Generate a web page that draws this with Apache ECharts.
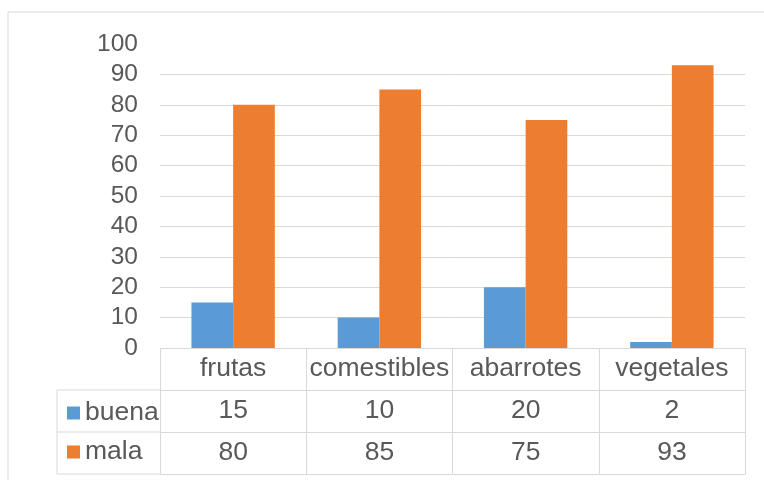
<!DOCTYPE html>
<html>
<head>
<meta charset="utf-8">
<script src="https://cdn.jsdelivr.net/npm/echarts@6/dist/echarts.min.js"></script>
<style>
  html, body { margin: 0; padding: 0; background: #fff; }
  #chart { width: 764px; height: 480px; }
</style>
</head>
<body>
<div id="chart"></div>
<script>
// datos de la tabla
const categories = ['frutas', 'comestibles', 'abarrotes', 'vegetales']
const buena = [15, 10, 20, 2]
const mala = [80, 85, 75, 93]
const seriesNames = ['buena', 'mala']
const colors = ['#5B9BD5', '#ED7D31']

const textColor = '#595959'
const lineColor = '#D9D9D9'
const font = 'Liberation Sans, Arial, sans-serif'
const tableFont = 26.5

// layout
const gridLeft = 160
const gridRight = 19
const gridTop = 44
const gridBottom = 132
const rowH = 42
const legendLeft = 57

const chart = echarts.init(document.getElementById('chart'))

// las celdas de la tabla se dibujan con ejes extra
const tableAxis = (data, offset, showLabel) => ({
  type: 'category',
  data: data,
  position: 'bottom',
  offset: offset,
  axisLine: {show: true, lineStyle: {color: lineColor, width: 1}},
  axisTick: {show: false},
  axisLabel: {show: showLabel, interval: 0, margin: 7, color: textColor, fontSize: tableFont, fontFamily: font},
  splitLine: {show: false}
})

// la linea de 100 no se muestra
const splitColors = Array(11).fill(lineColor)
splitColors[10] = 'transparent'

const tableTop = 480 - gridBottom
const tableBottom = tableTop + rowH * 3
const gLine = (x1, y1, x2, y2) => ({
  type: 'line',
  shape: {x1: x1, y1: y1, x2: x2, y2: y2},
  style: {stroke: lineColor, lineWidth: 1}
})

const option = {
  animation: false,
  backgroundColor: '#fff',
  grid: {left: gridLeft, right: gridRight, top: gridTop, bottom: gridBottom},
  legend: {
    orient: 'vertical',
    left: legendLeft + 5,
    top: tableTop + rowH + 3,
    itemWidth: 13,
    itemHeight: 13,
    itemGap: 9,
    icon: 'rect',
    selectedMode: false,
    textStyle: {color: textColor, fontSize: tableFont, fontFamily: font, lineHeight: 30},
    data: seriesNames
  },
  xAxis: [
    {
      type: 'category',
      data: categories,
      position: 'bottom',
      axisLine: {show: true, lineStyle: {color: lineColor}},
      axisTick: {show: true, interval: 0, length: rowH * 3, alignWithLabel: false, lineStyle: {color: lineColor}},
      axisLabel: {interval: 0, margin: 7, color: textColor, fontSize: tableFont, fontFamily: font}
    },
    tableAxis(buena, rowH, true),
    tableAxis(mala, rowH * 2, true),
    tableAxis(categories, rowH * 3, false)
  ],
  yAxis: {
    type: 'value',
    min: 0,
    max: 100,
    interval: 10,
    axisLine: {show: false},
    axisTick: {show: false},
    axisLabel: {color: textColor, fontSize: 24.5, fontFamily: font, margin: 22},
    splitLine: {lineStyle: {color: splitColors, width: 1}}
  },
  graphic: [
    // borde exterior
    {type: 'rect', shape: {x: 8, y: 12, width: 800, height: 500}, style: {fill: 'none', stroke: lineColor, lineWidth: 1}},
    // parte izquierda de la tabla (leyenda)
    gLine(legendLeft, tableTop + rowH, gridLeft, tableTop + rowH),
    gLine(legendLeft, tableTop + rowH * 2, gridLeft, tableTop + rowH * 2),
    gLine(legendLeft, tableBottom, gridLeft, tableBottom),
    gLine(legendLeft, tableTop + rowH, legendLeft, tableBottom)
  ],
  series: [
    {
      name: seriesNames[0],
      type: 'bar',
      data: buena,
      barGap: '0%',
      barCategoryGap: '43%',
      itemStyle: {color: colors[0]}
    },
    {
      name: seriesNames[1],
      type: 'bar',
      data: mala,
      barGap: '0%',
      barCategoryGap: '43%',
      itemStyle: {color: colors[1]}
    }
  ]
}

chart.setOption(option)
</script>
</body>
</html>
